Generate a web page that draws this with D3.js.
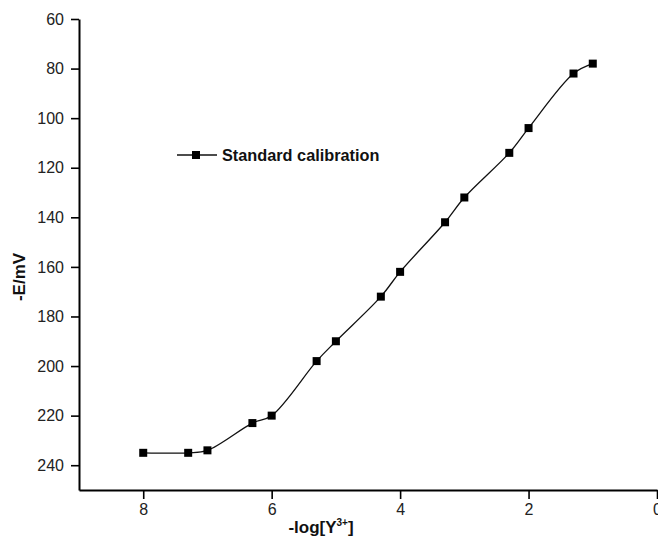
<!DOCTYPE html>
<html>
<head>
<meta charset="utf-8">
<script src="https://cdn.jsdelivr.net/npm/d3@7"></script>
<style>
  body { margin: 0; background: #fff; }
  text { font-family: "Liberation Sans", Arial, sans-serif; }
</style>
</head>
<body>
<svg id="chart"></svg>
<script>
// -log[Y3+] values and measured potentials
const logConc = [8, 7.3, 7, 6.3, 6, 5.3, 5, 4.3, 4, 3.3, 3, 2.3, 2, 1.3, 1];
const potential = [235, 235, 234, 223, 220, 198, 190, 172, 162, 142, 132, 114, 104, 82, 78];
const xTicks = [8, 6, 4, 2, 0];
const yTicks = [60, 80, 100, 120, 140, 160, 180, 200, 220, 240];
const seriesName = "Standard calibration";

const width = 658;
const height = 539;
const margin = {top : 19, left : 79, bottom : 49, right : 1};

const data = logConc.map((d, i) => ({x: d, y: potential[i]}));

const svg = d3.select("#chart")
    .attr("width", width)
    .attr("height", height);

const x = d3.scaleLinear()
    .domain([9, 0])
    .range([margin.left, width - margin.right]);

const y = d3.scaleLinear()
    .domain([60, 250])
    .range([margin.top, height - margin.bottom]);

const xAxis = g => g
    .attr("transform", `translate(0,${height - margin.bottom})`)
    .call(d3.axisBottom(x).tickValues(xTicks).tickSize(9).tickSizeOuter(0).tickPadding(5))
    .call(g => g.select(".domain").attr("stroke-width", 2))
    .call(g => g.selectAll(".tick line").attr("stroke-width", 1.6))
    .call(g => g.selectAll(".tick text").attr("font-size", 16).attr("fill", "#222")
        .attr("font-family", "Liberation Sans, Arial, sans-serif"));

const yAxis = g => g
    .attr("transform", `translate(${margin.left},0)`)
    .call(d3.axisLeft(y).tickValues(yTicks).tickSize(8).tickSizeOuter(0).tickPadding(7))
    .call(g => g.select(".domain").attr("stroke-width", 2))
    .call(g => g.selectAll(".tick line").attr("stroke-width", 1.6))
    .call(g => g.selectAll(".tick text").attr("font-size", 16).attr("fill", "#222")
        .attr("font-family", "Liberation Sans, Arial, sans-serif"));

svg.append("g").call(xAxis);
svg.append("g").call(yAxis);

// smooth curve through the points
const line = d3.line()
    .x(d => x(d.x))
    .y(d => y(d.y))
    .curve(d3.curveCatmullRom.alpha(0.5));

svg.append("path")
    .datum(data)
    .attr("fill", "none")
    .attr("stroke", "#111")
    .attr("stroke-width", 1.3)
    .attr("d", line);

const sq = 8;
svg.append("g")
    .selectAll("rect")
    .data(data)
    .join("rect")
    .attr("x", d => x(d.x) - sq / 2)
    .attr("y", d => y(d.y) - sq / 2)
    .attr("width", sq)
    .attr("height", sq)
    .attr("fill", "#000");

// legend
const legend = svg.append("g").attr("transform", "translate(177,155)");
legend.append("line")
    .attr("x1", 0).attr("x2", 40)
    .attr("stroke", "#111").attr("stroke-width", 1.3);
legend.append("rect")
    .attr("x", 19 - sq / 2).attr("y", -sq / 2)
    .attr("width", sq).attr("height", sq)
    .attr("fill", "#000");
legend.append("text")
    .attr("x", 45).attr("y", 6)
    .attr("font-size", 16.3).attr("font-weight", "bold").attr("fill", "#111")
    .text(seriesName);

// axis titles
svg.append("text")
    .attr("transform", "translate(25,277) rotate(-90)")
    .attr("text-anchor", "middle")
    .attr("font-size", 17).attr("font-weight", "bold").attr("fill", "#111")
    .text("-E/mV");

const xt = svg.append("text")
    .attr("x", 321).attr("y", 533)
    .attr("text-anchor", "middle")
    .attr("font-size", 17).attr("font-weight", "bold").attr("fill", "#111");
xt.append("tspan").text("-log[Y");
xt.append("tspan").attr("font-size", 10).attr("dy", -7).text("3+");
xt.append("tspan").attr("dy", 7).text("]");
</script>
</body>
</html>
